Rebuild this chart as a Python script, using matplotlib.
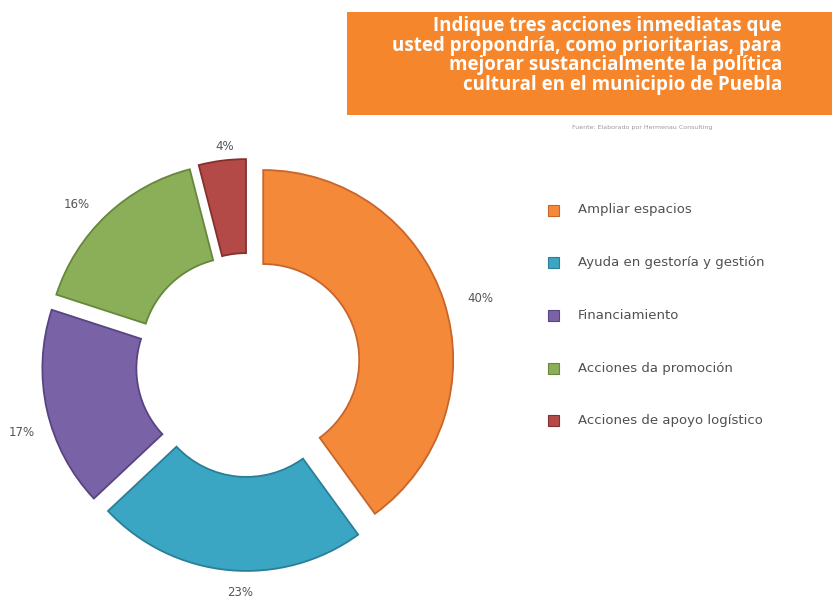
import matplotlib.pyplot as plt
from matplotlib.patches import Rectangle

# datos
categorias = ['Ampliar espacios', 'Ayuda en gestoría y gestión', 'Financiamiento',
              'Acciones da promoción', 'Acciones de apoyo logístico']
porcentajes = [40, 23, 17, 16, 4]
colores = ['#F5893A', '#3BA6C3', '#7A62A6', '#8BAE58', '#B34A47']
bordes = ['#C9652A', '#2A7F97', '#574582', '#66873C', '#85302F']
titulo = ('Indique tres acciones inmediatas que\n'
          'usted propondría, como prioritarias, para\n'
          'mejorar sustancialmente la política\n'
          'cultural en el municipio de Puebla')
fuente = 'Fuente: Elaborado por Hermenau Consulting'

W, H = 832, 601
fig = plt.figure(figsize=(W / 100, H / 100), dpi=100)
fig.patch.set_facecolor('white')
ax = fig.add_axes([0, 0, 1, 1])

# dona (radio en pixeles, explode en unidades absolutas)
cx, cy, r = 248, H - 365, 190
wedges, _ = ax.pie(porcentajes, colors=colores, startangle=90, counterclock=False,
                   center=(cx, cy), radius=r, explode=[16] * 5,
                   wedgeprops=dict(width=94, linewidth=1.3),
                   frame=True)
for w, b in zip(wedges, bordes):
    w.set_edgecolor(b)
ax.set_xlim(0, W)
ax.set_ylim(0, H)
ax.set_aspect('equal')
ax.axis('off')

# recuadro naranja del título
ax.add_patch(Rectangle((347, H - 115), W - 347, 103, facecolor='#F5862B', edgecolor='none'))
ax.text(782, H - 16, titulo, ha='right', va='top', color='white', fontsize=13.5,
        fontweight='bold', family='Open Sans', linespacing=0.97)
ax.text(642, H - 127, fuente, ha='center', va='center', color='#999999', fontsize=4.5)

# etiquetas de porcentaje
pos_etq = [(480, 298), (240, 593), (22, 432), (77, 205), (225, 146)]
for p, (x, y) in zip(porcentajes, pos_etq):
    ax.text(x, H - y, f'{p}%', ha='center', va='center', color='#555555', fontsize=8.5)

# leyenda
for i, (cat, col, b) in enumerate(zip(categorias, colores, bordes)):
    y = H - (210 + i * 52.7)
    ax.add_patch(Rectangle((548, y - 5.5), 11, 11, facecolor=col, edgecolor=b, lw=0.8))
    ax.text(578, y, cat, ha='left', va='center', color='#505050', fontsize=9.5)

fig.savefig('out.png', dpi=100, facecolor='white')
